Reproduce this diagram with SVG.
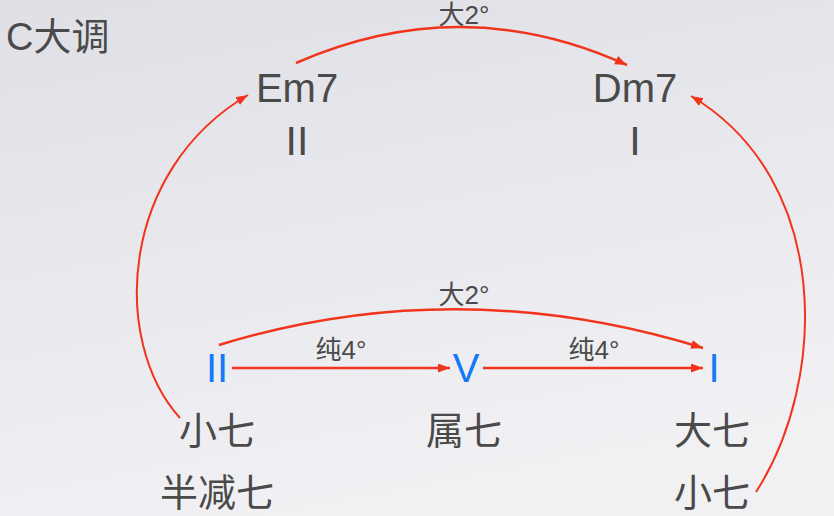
<svg xmlns="http://www.w3.org/2000/svg" width="834" height="516" viewBox="0 0 834 516">
<defs>
<linearGradient id="bg" x1="0" y1="0" x2="0.3" y2="1">
<stop offset="0" stop-color="#dfe0e6"/>
<stop offset="1" stop-color="#f1f1f4"/>
</linearGradient>
<marker id="ah" markerUnits="userSpaceOnUse" markerWidth="14" markerHeight="10" refX="12" refY="4.5" orient="auto" viewBox="0 0 14 10">
<path d="M0,0 L12,4.5 L0,9 z" fill="#f2341d"/>
</marker>
<style>
.t{font-family:"Liberation Sans","Noto Sans CJK SC",sans-serif;fill:#4a4a4a;text-anchor:middle}
.c{font-family:"Noto Sans CJK SC","Liberation Sans",sans-serif;fill:#4a4a4a;text-anchor:middle;font-size:38px}
.b{font-family:"Liberation Sans",sans-serif;fill:#1479f5;text-anchor:middle;font-size:40px}
.l{font-family:"Liberation Sans","Noto Sans CJK SC",sans-serif;fill:#4a4a4a;text-anchor:middle;font-size:26px}
.e{fill:none;stroke:#f2341d;stroke-width:2.5;marker-end:url(#ah)}
.e2{fill:none;stroke:#f2341d;stroke-width:2;marker-end:url(#ah)}
</style>
</defs>
<rect width="834" height="516" fill="url(#bg)"/>
<g id="title"><text x="6" y="50" font-family="Liberation Sans,'Noto Sans CJK SC',sans-serif" font-size="38" fill="#4a4a4a">C大调</text></g>
<g id="connectors">
<path class="e" d="M296,63 Q462,-10 627,65"/>
<path class="e" d="M219,345 Q457,272 703,348"/>
<path class="e" d="M232,368 L450,368"/>
<path class="e" d="M483,368 L703,368"/>
<path class="e2" d="M180,418 C110,340 120,170 248,95"/>
<path class="e2" d="M756,492 C828,380 832,180 691,96"/>
<text class="l" x="464" y="24">大2°</text>
<text class="l" x="464" y="304">大2°</text>
<text class="l" x="341" y="359">纯4°</text>
<text class="l" x="594" y="359">纯4°</text>
</g>
<g id="em7"><text class="t" x="297" y="102" font-size="40">Em7</text><text class="t" x="297" y="155" font-size="41">II</text></g>
<g id="dm7"><text class="t" x="635" y="102" font-size="40">Dm7</text><text class="t" x="635" y="155" font-size="41">I</text></g>
<g id="n-ii"><text class="b" x="217" y="382">II</text><text class="c" x="217" y="444">小七</text><text class="c" x="217" y="506">半减七</text></g>
<g id="n-v"><text class="b" x="466" y="382">V</text><text class="c" x="464" y="444">属七</text></g>
<g id="n-i"><text class="b" x="714" y="382">I</text><text class="c" x="712" y="444">大七</text><text class="c" x="712" y="506">小七</text></g>
</svg>
